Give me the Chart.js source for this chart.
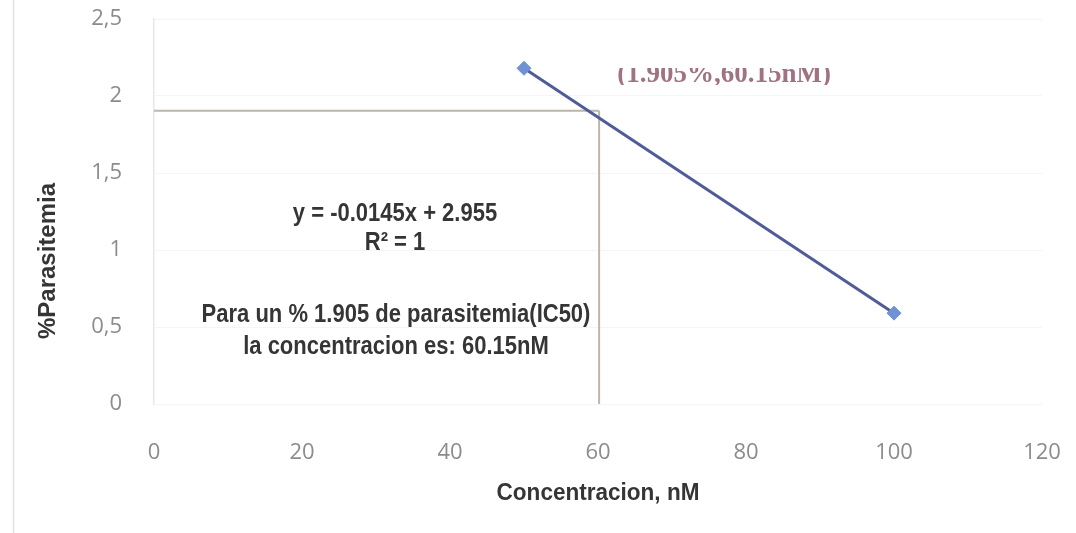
<!DOCTYPE html>
<html>
<head>
<meta charset="utf-8">
<script src="https://cdn.jsdelivr.net/npm/chart.js@4/dist/chart.umd.min.js"></script>
<style>
  html, body { margin: 0; padding: 0; background: #ffffff; }
  #wrap { width: 1076px; height: 533px; position: relative; }
</style>
</head>
<body>
<div id="wrap"><canvas id="c" width="1076" height="533"></canvas></div>
<script>
// Measured parasitemia at two concentrations (nM -> %)
const concentrations = [50, 100];
const parasitemia = [2.18, 0.59];

// IC50 read-off: parasitemia level and the matching concentration
const ic50Level = 1.905;
const ic50Conc = 60.15;

// Axis ticks
const xTicks = [0, 20, 40, 60, 80, 100, 120];
const yTicks = [0, 0.5, 1, 1.5, 2, 2.5];

const textFont = "'Liberation Sans', Arial, sans-serif";
const tickFont = "'Open Sans', 'Noto Sans', sans-serif";

const dataPoints = concentrations.map((x, i) => ({ x: x, y: parasitemia[i] }));
const guideH = [{ x: 0, y: ic50Level }, { x: ic50Conc, y: ic50Level }];
const guideV = [{ x: ic50Conc, y: ic50Level }, { x: ic50Conc, y: 0 }];

// draws text horizontally condensed around its centre
function narrowText(ctx, text, x, y, sx) {
  ctx.save();
  ctx.translate(x, y);
  ctx.scale(sx, 1);
  ctx.fillText(text, 0, 0);
  ctx.restore();
}

const overlay = {
  id: 'overlay',
  beforeDraw(chart) {
    const ctx = chart.ctx;
    ctx.save();
    ctx.fillStyle = '#ffffff';
    ctx.fillRect(0, 0, chart.width, chart.height);
    // outer frame edge on the left
    ctx.strokeStyle = '#e2e2e2';
    ctx.lineWidth = 1.5;
    ctx.beginPath();
    ctx.moveTo(13.5, 0);
    ctx.lineTo(13.5, 533);
    ctx.stroke();
    ctx.restore();
  },
  afterDraw(chart) {
    const ctx = chart.ctx;
    const xs = chart.scales.x;
    ctx.save();
    ctx.textAlign = 'center';
    ctx.textBaseline = 'middle';
    ctx.fillStyle = '#353535';

    // axis titles
    ctx.font = "bold 23px " + textFont;
    narrowText(ctx, 'Concentracion, nM', xs.getPixelForValue(60), 494, 0.98);
    ctx.save();
    ctx.translate(48, 261);
    ctx.rotate(-Math.PI / 2);
    ctx.font = "bold 24px " + textFont;
    narrowText(ctx, '%Parasitemia', 0, 0, 1.0);
    ctx.restore();

    // regression and IC50 notes
    ctx.font = "bold 25px " + textFont;
    narrowText(ctx, 'y = -0.0145x + 2.955', 395, 214, 0.88);
    narrowText(ctx, 'R² = 1', 395, 243, 0.88);
    narrowText(ctx, 'Para un % 1.905 de parasitemia(IC50)', 396, 315, 0.88);
    narrowText(ctx, 'la concentracion es: 60.15nM', 396, 347, 0.88);

    // IC50 point label
    ctx.save();
    ctx.beginPath();
    ctx.rect(560, 68, 340, 17);
    ctx.clip();
    ctx.fillStyle = '#a07282';
    ctx.font = "bold 27px 'Liberation Serif', 'DejaVu Serif', serif";
    ctx.fillText('(1.905%,60.15nM)', 724, 75);
    ctx.restore();

    ctx.restore();
  }
};

new Chart(document.getElementById('c'), {
  type: 'scatter',
  data: {
    datasets: [
      {
        label: 'guideH',
        data: guideH,
        showLine: true,
        borderColor: '#bdb6aa',
        borderWidth: 2,
        pointRadius: 0,
        order: 3
      },
      {
        label: 'guideV',
        data: guideV,
        showLine: true,
        borderColor: '#bdb6aa',
        borderWidth: 2,
        pointRadius: 0,
        order: 2
      },
      {
        label: '%Parasitemia',
        data: dataPoints,
        showLine: true,
        borderColor: '#4f5c98',
        borderWidth: 3,
        pointStyle: 'rectRot',
        pointRadius: 7,
        pointBackgroundColor: '#7092d2',
        pointBorderColor: '#7092d2',
        pointBorderWidth: 1,
        order: 1
      }
    ]
  },
  options: {
    responsive: false,
    animation: false,
    events: [],
    layout: { padding: { left: 0, right: 34, top: 19, bottom: 0 } },
    plugins: {
      legend: { display: false },
      title: { display: false },
      tooltip: { enabled: false }
    },
    scales: {
      x: {
        type: 'linear',
        min: 0,
        max: 120,
        afterBuildTicks(scale) { scale.ticks = xTicks.map(v => ({ value: v })); },
        afterFit(scale) {
          scale.height = 129;
          scale.paddingLeft = 0;
          scale.paddingRight = 0;
        },
        grid: { display: false, drawTicks: false },
        border: { display: false },
        ticks: {
          padding: 36,
          color: '#8c8c8c',
          font: { family: tickFont, size: 22 },
          maxRotation: 0
        }
      },
      y: {
        type: 'linear',
        min: 0,
        max: 2.5,
        afterBuildTicks(scale) { scale.ticks = yTicks.map(v => ({ value: v })); },
        afterFit(scale) {
          scale.width = 154;
          scale.paddingTop = 0;
          scale.paddingBottom = 0;
        },
        grid: { color: '#f5f5f5', lineWidth: 1, drawTicks: false },
        border: { display: true, color: '#e8e8e8', width: 1.5 },
        ticks: {
          padding: 32,
          color: '#8c8c8c',
          font: { family: tickFont, size: 22 },
          callback: (v) => String(v).replace('.', ',')
        }
      }
    }
  },
  plugins: [overlay]
});
</script>
</body>
</html>
